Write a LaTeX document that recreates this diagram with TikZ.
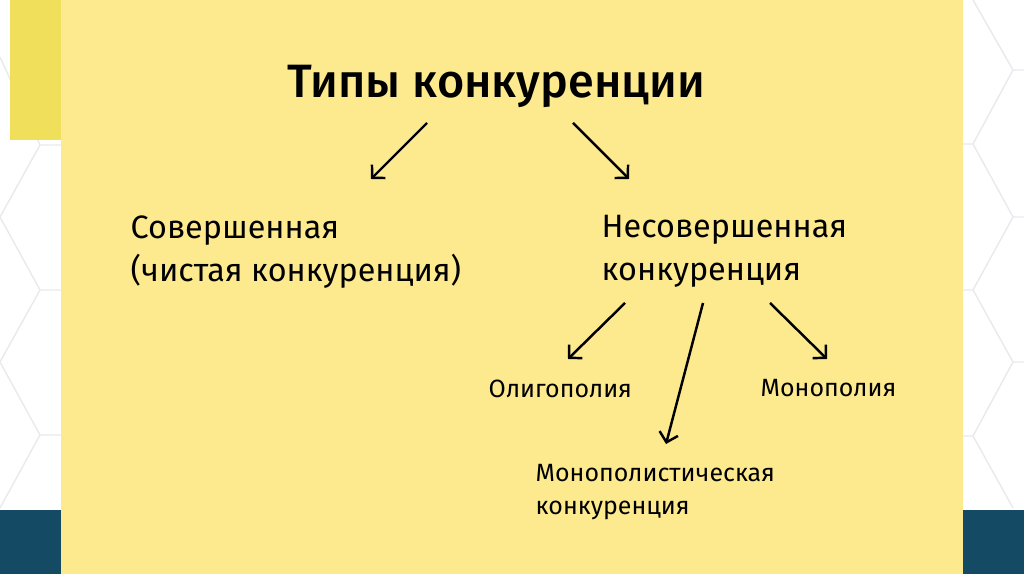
\documentclass[tikz,border=0pt]{standalone}
\usepackage{fontspec}
\setmainfont{Fira Sans}
\newfontfamily\titlefont{Fira Sans Medium}
\usetikzlibrary{arrows.meta}
\definecolor{slideyellow}{RGB}{253,234,142}
\definecolor{baryellow}{RGB}{240,223,90}
\definecolor{slideteal}{RGB}{20,74,99}
\definecolor{hexgray}{RGB}{234,234,238}
\tikzset{
  kind/.style={anchor=north west,inner sep=0pt,align=left,
    font=\fontsize{9.2}{12.2}\selectfont},
  subkind/.style={anchor=north west,inner sep=0pt,align=left,
    font=\fontsize{7.1}{9.2}\selectfont},
  pointer/.style={-{Straight Barb[length=2.6pt,width=5.4pt]},line width=0.7pt}
}
\begin{document}
\begin{tikzpicture}[x=0.01cm,y=-0.01cm]
      \useasboundingbox (0,0) rectangle (1024,574);
      % background
      \fill[white] (0,0) rectangle (1024,574);
      \draw[hexgray,line width=0.4pt]
        (0,57) -- (40,145) -- (0,217) -- (40,290) -- (0,362) -- (40,435) -- (0,508)
        (40,145) -- (61,145) (40,290) -- (61,290) (40,435) -- (61,435)
        (973,0) -- (1013,70) -- (973,144) -- (1013,217) -- (973,290) -- (1013,362) -- (973,436) -- (1013,508)
        (1013,70) -- (1024,70) (1013,217) -- (1024,217) (1013,362) -- (1024,362)
        (963,144) -- (973,144) (963,290) -- (973,290) (963,436) -- (973,436);
      \fill[slideteal] (0,510) rectangle (1024,574);
      \fill[baryellow] (10,0) rectangle (61,140);
      \fill[slideyellow] (61,0) rectangle (963,574);
      % nodes
      \draw
        (496,64) node[anchor=north,inner sep=0pt,font=\titlefont\fontsize{13.3}{16}\selectfont] (types){Типы конкуренции}
        (130,215) node[kind] (perfect){Совершенная\\(чистая конкуренция)}
        (601,215) node[kind] (imperfect){Несовершенная\\конкуренция}
        (488,379) node[subkind] (oligopoly){Олигополия}
        (760,379) node[subkind] (monopoly){Монополия}
        (535,464) node[subkind] (monocomp){Монополистическая\\конкуренция};
      \coordinate (a1) at (427,123);
      \coordinate (b1) at (371,179);
      \coordinate (a2) at (573,123);
      \coordinate (b2) at (629,179);
      \coordinate (a3) at (625,303);
      \coordinate (b3) at (568,359);
      \coordinate (a4) at (703,303);
      \coordinate (b4) at (666,444);
      \coordinate (a5) at (770,303);
      \coordinate (b5) at (827,359);
      \begin{scope}[pointer]
        \draw (a1) to (b1);
        \draw (a2) to (b2);
        \draw (a3) to (b3);
        \draw (a4) to (b4);
        \draw (a5) to (b5);
      \end{scope}
    \end{tikzpicture}
\end{document}
